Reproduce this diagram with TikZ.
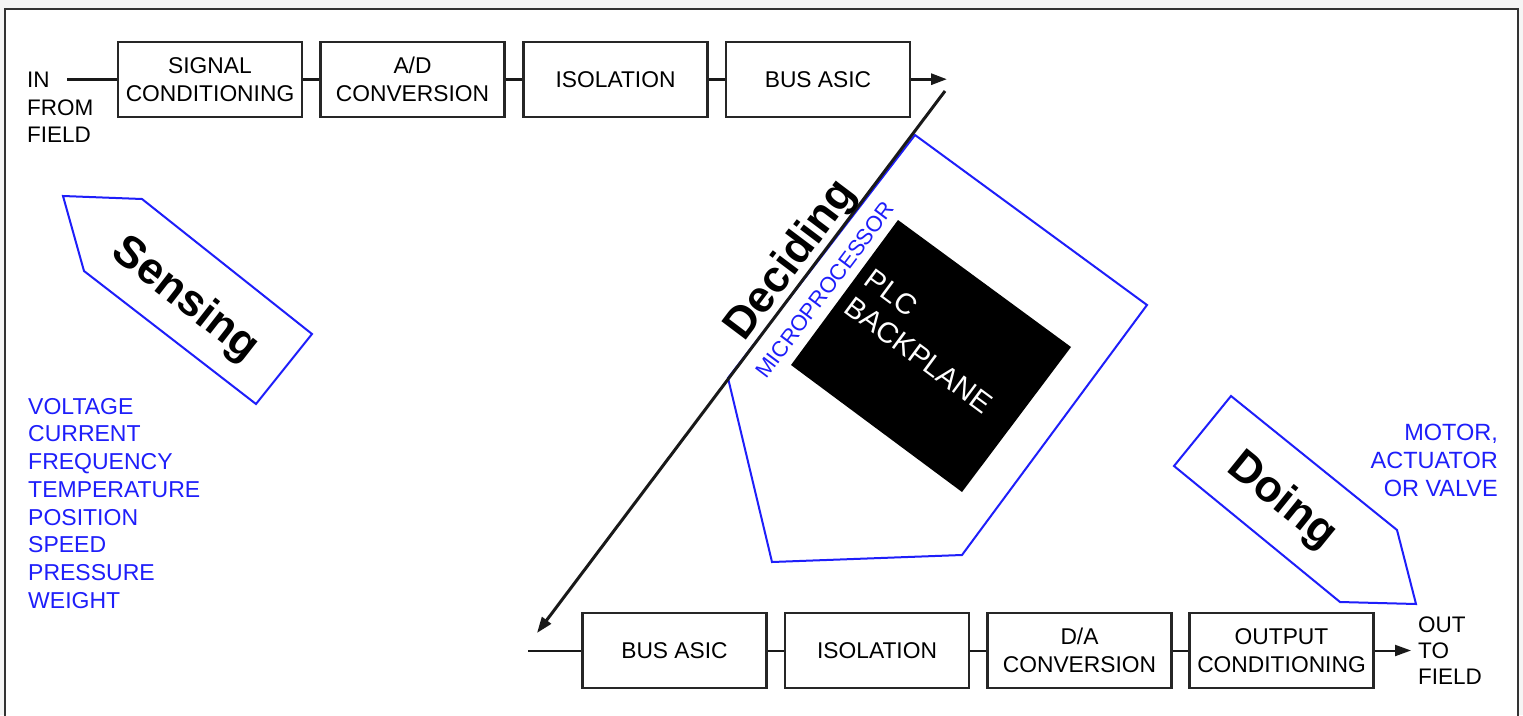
\documentclass[tikz,border=0pt]{standalone}
\usepackage{fontspec}
\setmainfont{Liberation Sans}
\usetikzlibrary{arrows.meta}
\definecolor{mblue}{RGB}{30,30,250}
\definecolor{pagegray}{RGB}{245,245,245}
\begin{document}
\begin{tikzpicture}[x=1pt,y=-1pt,
  box/.style={draw=black!85, line width=2.3pt, minimum width=184pt, minimum height=75pt, inner sep=0pt, align=center, font=\fontsize{22.8}{28}\selectfont},
  conn/.style={line width=3pt, black!90},
  conn2/.style={line width=2pt, black!90},
  tip/.style={-{Triangle[length=16pt,width=11pt]}},
  bluepoly/.style={draw=mblue, line width=2pt, line join=miter},
  lbl/.style={inner sep=0pt, align=left, font=\fontsize{22.5}{27.5}\selectfont},
  bluelist/.style={inner sep=0pt, text=mblue, font=\fontsize{23}{27.7}\selectfont},
  bigword/.style={inner sep=0pt, font=\fontsize{44.5}{50}\selectfont\bfseries},
  plctext/.style={inner sep=0pt, text=white, font=\fontsize{29}{34}\selectfont}
]
\useasboundingbox (0,0) rectangle (1523,715);
\fill[pagegray] (0,0) rectangle (1523,715);
\draw[fill=white, draw=black!80, line width=2.5pt] (5,9) rectangle (1518,760);

% top row
\node[box] (sc)  at (210,79.2)   {SIGNAL\\CONDITIONING};
\node[box] (ad)  at (412.5,79.2) {A/D\\CONVERSION};
\node[box] (iso) at (615.5,79.2) {ISOLATION};
\node[box] (bus) at (818,79.2)   {BUS ASIC};
\node[lbl, anchor=north west] (infield) at (27,72) {IN\\FROM\\FIELD};
\coordinate (instart) at (67,79.2);
\coordinate (topend) at (947,79.2);
\draw[conn] (instart) -- (sc.west);
\draw[conn] (sc) -- (ad);
\draw[conn] (ad) -- (iso);
\draw[conn] (iso) -- (bus);
\draw[conn, tip] (bus.east) -- (topend);

% bottom row
\node[box] (bus2) at (674.5,650.5)  {BUS ASIC};
\node[box] (iso2) at (877,650.5)    {ISOLATION};
\node[box] (da)   at (1079.5,650.5) {D/A\\CONVERSION};
\node[box] (oc)   at (1281.5,650.5) {OUTPUT\\CONDITIONING};
\node[lbl, anchor=north west, font=\fontsize{22.5}{26}\selectfont] (outfield) at (1418,617) {OUT\\TO\\FIELD};
\coordinate (botstart) at (528,650.5);
\coordinate (botend) at (1411,650.5);
\draw[conn2] (botstart) -- (bus2.west);
\draw[conn2] (bus2) -- (iso2);
\draw[conn2] (iso2) -- (da);
\draw[conn2] (da) -- (oc);
\draw[conn2, tip] (oc.east) -- (botend);

% sensing
\draw[bluepoly] (63,196) -- (142,199) -- (312,334) -- (256,404) -- (84,271) -- cycle;
\node[bigword, rotate=-38] (sensing) at (185,300) {Sensing};
\node[bluelist, anchor=north west, align=left] (senselist) at (28,398)
  {VOLTAGE\\CURRENT\\FREQUENCY\\TEMPERATURE\\POSITION\\SPEED\\PRESSURE\\WEIGHT};

% doing
\draw[bluepoly] (1231,396) -- (1397,530) -- (1416,604) -- (1340,602) -- (1174,466) -- cycle;
\node[bigword, rotate=-39] (doing) at (1282,501) {Doing};
\node[bluelist, anchor=north east, align=right, font=\fontsize{23.5}{27.7}\selectfont] (motor) at (1498,424) {MOTOR,\\ACTUATOR\\OR VALVE};

% deciding
\draw[bluepoly] (915,135) -- (1147,305) -- (962,555) -- (772,562) -- (728,378) -- cycle;
\fill[black] (898,220) -- (1071,347) -- (962,492) -- (791,365) -- cycle;
\node[plctext, anchor=base west, rotate=-36.5] (plc) at (862.7,283.8) {PLC};
\node[plctext, anchor=base west, rotate=-36.5] (backplane) at (842.6,311.2) {BACKPLANE};
\coordinate (dtop) at (945,91);
\coordinate (dbot) at (537,633);
\draw[conn, tip] (dtop) -- (dbot);
\node[bigword, anchor=base, rotate=53] (deciding) at (800.7,267.8) {Deciding};
\node[inner sep=0pt, text=mblue, font=\fontsize{22}{26}\selectfont, rotate=53] (micro) at (825.1,289.8) {MICROPROCESSOR};
\end{tikzpicture}
\end{document}
